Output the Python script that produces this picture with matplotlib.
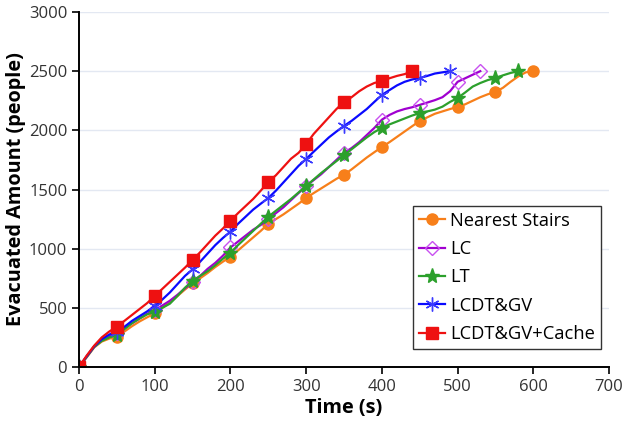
import matplotlib
matplotlib.use("Agg")
import matplotlib.pyplot as plt

plt.rcParams['font.family'] = ['Open Sans', 'DejaVu Sans']

# time stamps (s) every 10 s
t_ns = list(range(0, 601, 10))
ns = [0, 80, 165, 215, 240, 256, 300, 345, 385, 420, 454, 500, 545, 600, 655, 707, 750, 795, 845, 890,
      932, 985, 1040, 1095, 1150, 1210, 1250, 1290, 1335, 1380, 1428, 1470, 1510, 1550, 1590, 1625, 1670,
      1720, 1770, 1815, 1859, 1900, 1945, 1990, 2035, 2079, 2110, 2140, 2160, 2180, 2197, 2220, 2250, 2280,
      2305, 2324, 2360, 2410, 2455, 2490, 2500]

t_lc = list(range(0, 531, 10))
lc = [0, 85, 170, 225, 260, 285, 330, 370, 410, 450, 480, 520, 560, 610, 665, 715, 770, 830, 880, 940,
      1010, 1060, 1110, 1160, 1200, 1250, 1300, 1350, 1410, 1470, 1530, 1580, 1630, 1690, 1750, 1810, 1850,
      1900, 1960, 2020, 2090, 2130, 2160, 2180, 2195, 2215, 2235, 2255, 2280, 2330, 2410, 2440, 2470, 2500]

t_lt = list(range(0, 581, 10))
lt = [0, 85, 170, 220, 250, 270, 320, 370, 410, 445, 467, 500, 535, 600, 670, 729, 770, 810, 860, 915,
      966, 1030, 1090, 1150, 1210, 1270, 1320, 1370, 1420, 1475, 1530, 1585, 1640, 1690, 1740, 1791, 1840,
      1890, 1940, 1985, 2020, 2050, 2075, 2100, 2125, 2146, 2160, 2175, 2200, 2240, 2273, 2320, 2370, 2400,
      2425, 2442, 2465, 2485, 2500]

t_gv = list(range(0, 491, 10))
gv = [0, 90, 175, 235, 275, 298, 340, 390, 430, 470, 515, 570, 630, 700, 770, 825, 890, 960, 1030, 1090,
      1144, 1210, 1270, 1330, 1380, 1428, 1490, 1560, 1630, 1700, 1758, 1820, 1880, 1940, 1990, 2037, 2080,
      2130, 2180, 2240, 2299, 2340, 2380, 2410, 2430, 2442, 2460, 2480, 2490, 2500]

t_gc = list(range(0, 441, 10))
gc = [0, 95, 180, 250, 300, 341, 390, 440, 490, 540, 600, 660, 720, 780, 840, 904, 970, 1040, 1110, 1170,
      1236, 1300, 1360, 1420, 1490, 1563, 1620, 1690, 1760, 1810, 1884, 1970, 2040, 2110, 2180, 2239, 2280,
      2330, 2370, 2400, 2417, 2440, 2460, 2475, 2500]

labels = ["Nearest Stairs", "LC", "LT", "LCDT&GV", "LCDT&GV+Cache"]
xticks = [0, 100, 200, 300, 400, 500, 600, 700]
yticks = [0, 500, 1000, 1500, 2000, 2500, 3000]

fig = plt.figure(figsize=(6.24, 4.24), dpi=100)
ax = fig.add_axes([0.1266, 0.1344, 0.8494, 0.8373])


def marks(n):
    idx = list(range(0, n, 5))
    if idx[-1] != n - 1:
        idx.append(n - 1)
    return idx


ax.plot(t_ns, ns, color='#f77f1a', lw=1.6, marker='o', ms=8, markevery=marks(len(ns)),
        mfc='#f77f1a', mec='#f77f1a', label=labels[0])
ax.plot(t_lc, lc, color='#a000d0', lw=1.6, marker='D', ms=7, markevery=marks(len(lc)),
        mfc='none', mec='#c850f0', mew=1.0, label=labels[1])
ax.plot(t_lt, lt, color='#2ca02c', lw=1.6, marker='*', ms=11, markevery=marks(len(lt)),
        mfc='#2ca02c', mec='#2ca02c', label=labels[2])
ax.plot(t_gv, gv, color='#0a0aff', lw=1.6, marker=(6, 2, 0), ms=10, markevery=marks(len(gv)),
        mec='#3a3aff', mew=1.0, label=labels[3])
ax.plot(t_gc, gc, color='#ee1111', lw=1.6, marker='s', ms=8, markevery=marks(len(gc)),
        mfc='#ee1111', mec='#ee1111', label=labels[4])

ax.set_xlim(0, 700)
ax.set_ylim(0, 3000)
ax.set_xticks(xticks)
ax.set_yticks(yticks)
ax.tick_params(axis='both', labelsize=12, labelcolor='#333333', color='black', length=5, width=1.2)
ax.yaxis.grid(True, color='#e3e8f2', lw=1.0)
ax.set_axisbelow(True)
for s in ['top', 'right']:
    ax.spines[s].set_visible(False)
for s in ['left', 'bottom']:
    ax.spines[s].set_linewidth(1.4)
    ax.spines[s].set_color('black')

ax.set_xlabel("Time (s)", fontsize=14.3, fontweight='bold', labelpad=2.5)
ax.set_ylabel("Evacuated Amount (people)", fontsize=14.3, fontweight='bold', labelpad=2)

leg = ax.legend(loc='upper left', bbox_to_anchor=(0.630, 0.4535), fontsize=13.2, frameon=True,
                fancybox=False, edgecolor='#333333', framealpha=1, handlelength=1.45,
                handletextpad=0.25, borderpad=0.32, labelspacing=0.56, borderaxespad=0)
leg.get_frame().set_linewidth(1.0)

fig.savefig("out.png", dpi=100)
